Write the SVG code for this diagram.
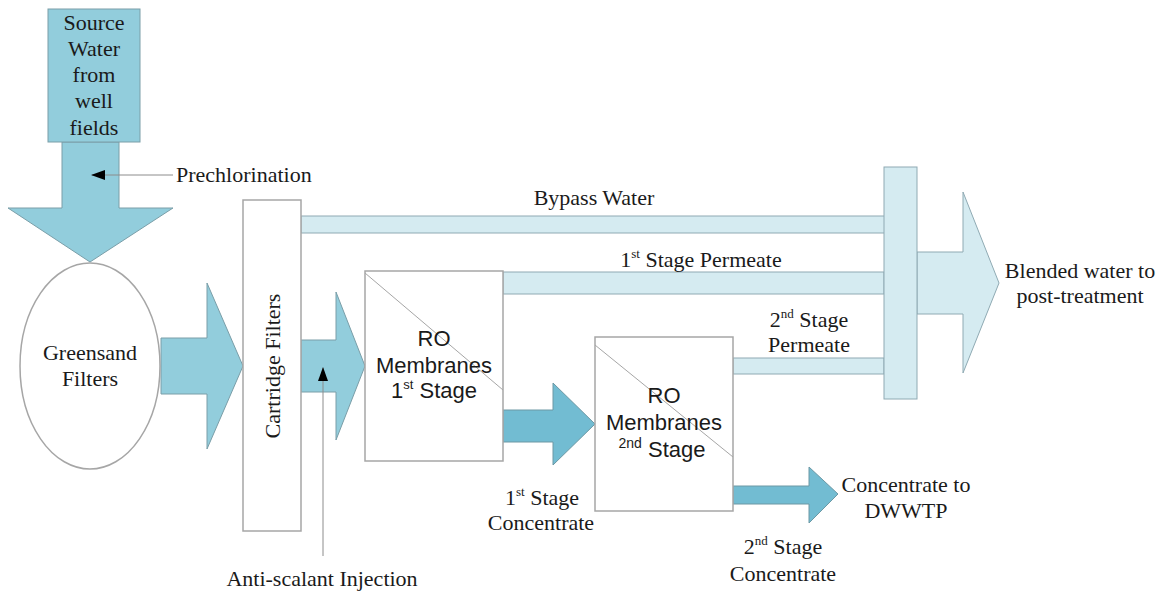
<svg xmlns="http://www.w3.org/2000/svg" width="1166" height="593" viewBox="0 0 1166 593">
<defs>
<style>
.t{font-family:"Liberation Serif","Times New Roman",serif;font-size:22px;fill:#1a1a1a;text-anchor:middle}
.ts{font-family:"Liberation Serif","Times New Roman",serif;font-size:22px;fill:#1a1a1a;text-anchor:start}
.a{font-family:"Liberation Sans",Arial,sans-serif;font-size:22px;fill:#1a1a1a;text-anchor:middle}
.dark{fill:#92CDDC;stroke:#7A9EA8;stroke-width:1}
.conc{fill:#72BCD2;stroke:#6C98A4;stroke-width:1}
.light{fill:#D5EBF1;stroke:#8FAAB3;stroke-width:1}
.box{fill:#ffffff;stroke:#A6A6A6;stroke-width:1.5}
.diag{stroke:#A6A6A6;stroke-width:1;fill:none}
.thin{stroke:#8C8C8C;stroke-width:1;fill:none}
</style>
<marker id="ah" markerWidth="14" markerHeight="10" refX="13" refY="5" orient="auto" markerUnits="userSpaceOnUse">
<path d="M0,0 L14,5 L0,10 Z" fill="#000"/>
</marker>
</defs>
<rect width="1166" height="593" fill="#ffffff"/>

<g id="connectors">
<polygon class="dark" points="62,142 119,142 119,208 173,208 90,262 8,208 62,208"/>
<polygon class="dark" points="161,338 207,338 207,283 243,366 207,449 207,394 161,394"/>
<polygon class="dark" points="301,340 336,340 336,292 365,366 336,440 336,392 301,392"/>
<polygon class="conc" points="503,410 553,410 553,383 595,424 553,465 553,442 503,442"/>
<polygon class="conc" points="733,486 809,486 809,467 838,494 809,523 809,504 733,504"/>
<rect class="light" x="301" y="216" width="584" height="17"/>
<rect class="light" x="503" y="272" width="381" height="22"/>
<rect class="light" x="733" y="358" width="151" height="16"/>
<polygon class="light" points="917,252 963,252 963,192 999,283 963,373 963,314 917,314"/>
<line class="thin" x1="173" y1="175" x2="92" y2="175" marker-end="url(#ah)"/>
<line class="thin" x1="323" y1="556" x2="323" y2="368" marker-end="url(#ah)"/>
</g>

<g id="source">
<rect class="dark" x="48" y="9" width="92" height="133"/>
<text class="t" x="94" y="30">Source</text>
<text class="t" x="94" y="56">Water</text>
<text class="t" x="94" y="82">from</text>
<text class="t" x="94" y="108">well</text>
<text class="t" x="94" y="135">fields</text>
</g>

<g id="greensand">
<ellipse class="box" cx="90" cy="366" rx="70" ry="103" stroke-width="1"/>
<text class="t" x="90" y="360">Greensand</text>
<text class="t" x="90" y="386">Filters</text>
</g>

<g id="cartridge">
<rect class="box" x="243" y="200" width="58" height="331"/>
<text class="t" transform="translate(280,366) rotate(-90)">Cartridge Filters</text>
</g>

<g id="ro1">
<rect class="box" x="365" y="271" width="138" height="190"/>
<line class="diag" x1="365" y1="273" x2="503" y2="390"/>
<text class="a" x="434" y="346">RO</text>
<text class="a" x="434" y="373">Membranes</text>
<text class="a" x="434" y="398">1<tspan font-size="13" dy="-9">st</tspan><tspan dy="9"> Stage</tspan></text>
</g>

<g id="ro2">
<rect class="box" x="595" y="337" width="138" height="174"/>
<line class="diag" x1="595" y1="345" x2="733" y2="457"/>
<text class="a" x="664" y="403">RO</text>
<text class="a" x="664" y="430">Membranes</text>
<text class="a" x="662" y="457"><tspan font-size="14" dy="-9">2nd</tspan><tspan dy="9"> Stage</tspan></text>
</g>

<g id="mixer">
<rect class="light" x="884" y="167" width="33" height="232"/>
</g>

<g id="labels">
<text class="ts" x="176" y="182">Prechlorination</text>
<text class="t" x="594" y="205">Bypass Water</text>
<text class="t" x="701" y="267">1<tspan font-size="13" dy="-9">st</tspan><tspan dy="9"> Stage Permeate</tspan></text>
<text class="t" x="809" y="327">2<tspan font-size="13" dy="-9">nd</tspan><tspan dy="9"> Stage</tspan></text>
<text class="t" x="809" y="352">Permeate</text>
<text class="t" x="1080" y="278">Blended water to</text>
<text class="t" x="1080" y="303">post-treatment</text>
<text class="t" x="542" y="505">1<tspan font-size="13" dy="-9">st</tspan><tspan dy="9"> Stage</tspan></text>
<text class="t" x="541" y="530">Concentrate</text>
<text class="t" x="906" y="492">Concentrate to</text>
<text class="t" x="906" y="518">DWWTP</text>
<text class="t" x="783" y="554">2<tspan font-size="13" dy="-9">nd</tspan><tspan dy="9"> Stage</tspan></text>
<text class="t" x="783" y="581">Concentrate</text>
<text class="t" x="322" y="586">Anti-scalant Injection</text>
</g>
</svg>
